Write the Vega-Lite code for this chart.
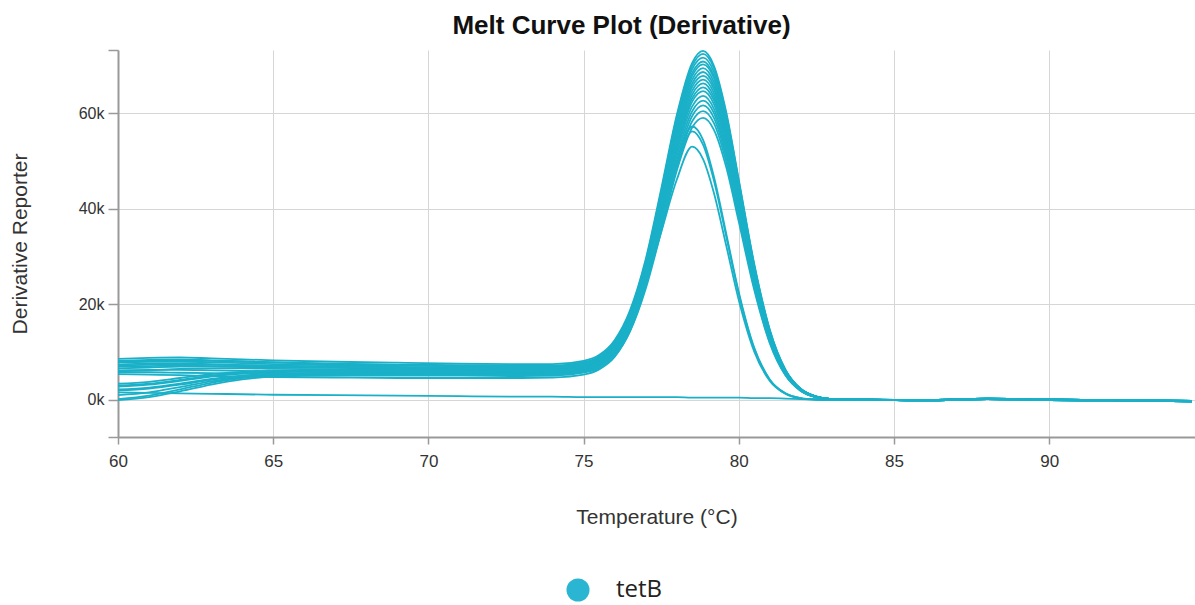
{
"$schema": "https://vega.github.io/schema/vega-lite/v6.json",
"width": 1077, "height": 387,
"autosize": "none",
"padding": {"left": 118, "top": 50, "right": 0, "bottom": 168},
"background": "white",
"title": {"text": "Melt Curve Plot (Derivative)", "font": "Liberation Sans", "fontSize": 26, "fontWeight": "bold", "color": "#111", "anchor": "middle", "dx": -35, "offset": 10},
"config": {"view": {"stroke": null}, "font": "Liberation Sans"},
"data": {"values": [
{"c":1,"t":60,"v":8.6},{"c":1,"t":61,"v":8.8},{"c":1,"t":62,"v":8.9},{"c":1,"t":63,"v":8.7},{"c":1,"t":64,"v":8.5},{"c":1,"t":65,"v":8.3},{"c":1,"t":67,"v":8.0},{"c":1,"t":69,"v":7.8},{"c":1,"t":71,"v":7.6},{"c":1,"t":73,"v":7.5},{"c":1,"t":74,"v":7.5},{"c":1,"t":75,"v":8.2},{"c":1,"t":75.5,"v":9.4},{"c":1,"t":76,"v":12.5},{"c":1,"t":76.5,"v":18.8},{"c":1,"t":77,"v":29.4},{"c":1,"t":77.5,"v":44.1},{"c":1,"t":78,"v":59.5},{"c":1,"t":78.5,"v":70.5},{"c":1,"t":78.85,"v":73.0},{"c":1,"t":79.2,"v":69.9},{"c":1,"t":79.6,"v":60.1},{"c":1,"t":80,"v":46.1},{"c":1,"t":80.5,"v":28.4},{"c":1,"t":81,"v":14.7},{"c":1,"t":81.5,"v":6.4},{"c":1,"t":82,"v":2.3},{"c":1,"t":82.5,"v":0.7},{"c":1,"t":83,"v":0.2},{"c":1,"t":84,"v":0.1},{"c":1,"t":86,"v":-0.1},{"c":1,"t":88,"v":0.2},{"c":1,"t":90,"v":0.0},{"c":1,"t":92,"v":-0.1},{"c":1,"t":94.6,"v":-0.3},
{"c":2,"t":60,"v":8.0},{"c":2,"t":61,"v":8.2},{"c":2,"t":62,"v":8.3},{"c":2,"t":63,"v":8.2},{"c":2,"t":64,"v":8.0},{"c":2,"t":65,"v":7.8},{"c":2,"t":67,"v":7.5},{"c":2,"t":69,"v":7.3},{"c":2,"t":71,"v":7.1},{"c":2,"t":73,"v":7.0},{"c":2,"t":74,"v":7.0},{"c":2,"t":75,"v":7.7},{"c":2,"t":75.5,"v":8.9},{"c":2,"t":76,"v":12.0},{"c":2,"t":76.5,"v":18.3},{"c":2,"t":77,"v":28.9},{"c":2,"t":77.5,"v":43.5},{"c":2,"t":78,"v":59.0},{"c":2,"t":78.5,"v":69.9},{"c":2,"t":78.85,"v":72.4},{"c":2,"t":79.2,"v":69.4},{"c":2,"t":79.6,"v":59.6},{"c":2,"t":80,"v":45.8},{"c":2,"t":80.5,"v":28.2},{"c":2,"t":81,"v":14.6},{"c":2,"t":81.5,"v":6.3},{"c":2,"t":82,"v":2.3},{"c":2,"t":82.5,"v":0.7},{"c":2,"t":83,"v":0.2},{"c":2,"t":84,"v":0.0},{"c":2,"t":86,"v":0.0},{"c":2,"t":88,"v":0.3},{"c":2,"t":90,"v":0.1},{"c":2,"t":92,"v":0.0},{"c":2,"t":94.6,"v":-0.2},
{"c":3,"t":60,"v":8.2},{"c":3,"t":61,"v":8.4},{"c":3,"t":62,"v":8.5},{"c":3,"t":63,"v":8.3},{"c":3,"t":64,"v":8.1},{"c":3,"t":65,"v":7.9},{"c":3,"t":67,"v":7.6},{"c":3,"t":69,"v":7.4},{"c":3,"t":71,"v":7.3},{"c":3,"t":73,"v":7.2},{"c":3,"t":74,"v":7.2},{"c":3,"t":75,"v":7.9},{"c":3,"t":75.5,"v":9.1},{"c":3,"t":76,"v":12.1},{"c":3,"t":76.5,"v":18.3},{"c":3,"t":77,"v":28.8},{"c":3,"t":77.5,"v":43.2},{"c":3,"t":78,"v":58.4},{"c":3,"t":78.5,"v":69.2},{"c":3,"t":78.85,"v":71.6},{"c":3,"t":79.2,"v":68.6},{"c":3,"t":79.6,"v":58.9},{"c":3,"t":80,"v":45.3},{"c":3,"t":80.5,"v":27.9},{"c":3,"t":81,"v":14.4},{"c":3,"t":81.5,"v":6.3},{"c":3,"t":82,"v":2.3},{"c":3,"t":82.5,"v":0.7},{"c":3,"t":83,"v":0.2},{"c":3,"t":84,"v":0.1},{"c":3,"t":86,"v":-0.1},{"c":3,"t":88,"v":0.2},{"c":3,"t":90,"v":0.0},{"c":3,"t":92,"v":-0.1},{"c":3,"t":94.6,"v":-0.3},
{"c":4,"t":60,"v":7.8},{"c":4,"t":61,"v":8.0},{"c":4,"t":62,"v":8.0},{"c":4,"t":63,"v":7.9},{"c":4,"t":64,"v":7.7},{"c":4,"t":65,"v":7.5},{"c":4,"t":67,"v":7.3},{"c":4,"t":69,"v":7.2},{"c":4,"t":71,"v":7.1},{"c":4,"t":73,"v":7.0},{"c":4,"t":74,"v":7.0},{"c":4,"t":75,"v":7.7},{"c":4,"t":75.5,"v":8.9},{"c":4,"t":76,"v":11.8},{"c":4,"t":76.5,"v":18.0},{"c":4,"t":77,"v":28.4},{"c":4,"t":77.5,"v":42.6},{"c":4,"t":78,"v":57.7},{"c":4,"t":78.5,"v":68.4},{"c":4,"t":78.85,"v":70.8},{"c":4,"t":79.2,"v":67.8},{"c":4,"t":79.6,"v":58.3},{"c":4,"t":80,"v":44.7},{"c":4,"t":80.5,"v":27.5},{"c":4,"t":81,"v":14.2},{"c":4,"t":81.5,"v":6.2},{"c":4,"t":82,"v":2.3},{"c":4,"t":82.5,"v":0.7},{"c":4,"t":83,"v":0.2},{"c":4,"t":84,"v":0.0},{"c":4,"t":86,"v":0.0},{"c":4,"t":88,"v":0.3},{"c":4,"t":90,"v":0.1},{"c":4,"t":92,"v":0.0},{"c":4,"t":94.6,"v":-0.2},
{"c":5,"t":60,"v":3.4},{"c":5,"t":61,"v":3.8},{"c":5,"t":62,"v":4.6},{"c":5,"t":63,"v":5.4},{"c":5,"t":64,"v":5.9},{"c":5,"t":65,"v":6.1},{"c":5,"t":67,"v":6.2},{"c":5,"t":69,"v":6.2},{"c":5,"t":71,"v":6.1},{"c":5,"t":73,"v":6.1},{"c":5,"t":74,"v":6.1},{"c":5,"t":75,"v":6.8},{"c":5,"t":75.5,"v":8.0},{"c":5,"t":76,"v":11.0},{"c":5,"t":76.5,"v":17.1},{"c":5,"t":77,"v":27.6},{"c":5,"t":77.5,"v":41.9},{"c":5,"t":78,"v":57.0},{"c":5,"t":78.5,"v":67.8},{"c":5,"t":78.85,"v":70.2},{"c":5,"t":79.2,"v":67.3},{"c":5,"t":79.6,"v":57.8},{"c":5,"t":80,"v":44.4},{"c":5,"t":80.5,"v":27.3},{"c":5,"t":81,"v":14.1},{"c":5,"t":81.5,"v":6.1},{"c":5,"t":82,"v":2.2},{"c":5,"t":82.5,"v":0.7},{"c":5,"t":83,"v":0.2},{"c":5,"t":84,"v":0.1},{"c":5,"t":86,"v":-0.1},{"c":5,"t":88,"v":0.2},{"c":5,"t":90,"v":0.0},{"c":5,"t":92,"v":-0.1},{"c":5,"t":94.6,"v":-0.3},
{"c":6,"t":60,"v":7.4},{"c":6,"t":61,"v":7.6},{"c":6,"t":62,"v":7.6},{"c":6,"t":63,"v":7.5},{"c":6,"t":64,"v":7.3},{"c":6,"t":65,"v":7.2},{"c":6,"t":67,"v":7.0},{"c":6,"t":69,"v":6.9},{"c":6,"t":71,"v":6.8},{"c":6,"t":73,"v":6.8},{"c":6,"t":74,"v":6.8},{"c":6,"t":75,"v":7.4},{"c":6,"t":75.5,"v":8.6},{"c":6,"t":76,"v":11.5},{"c":6,"t":76.5,"v":17.6},{"c":6,"t":77,"v":27.8},{"c":6,"t":77.5,"v":41.8},{"c":6,"t":78,"v":56.5},{"c":6,"t":78.5,"v":67.0},{"c":6,"t":78.85,"v":69.4},{"c":6,"t":79.2,"v":66.5},{"c":6,"t":79.6,"v":57.1},{"c":6,"t":80,"v":43.9},{"c":6,"t":80.5,"v":27.0},{"c":6,"t":81,"v":13.9},{"c":6,"t":81.5,"v":6.1},{"c":6,"t":82,"v":2.2},{"c":6,"t":82.5,"v":0.7},{"c":6,"t":83,"v":0.2},{"c":6,"t":84,"v":0.0},{"c":6,"t":86,"v":0.0},{"c":6,"t":88,"v":0.3},{"c":6,"t":90,"v":0.1},{"c":6,"t":92,"v":0.0},{"c":6,"t":94.6,"v":-0.2},
{"c":7,"t":60,"v":2.8},{"c":7,"t":61,"v":3.2},{"c":7,"t":62,"v":4.0},{"c":7,"t":63,"v":4.9},{"c":7,"t":64,"v":5.5},{"c":7,"t":65,"v":5.8},{"c":7,"t":67,"v":6.0},{"c":7,"t":69,"v":6.0},{"c":7,"t":71,"v":5.9},{"c":7,"t":73,"v":5.9},{"c":7,"t":74,"v":6.0},{"c":7,"t":75,"v":6.6},{"c":7,"t":75.5,"v":7.8},{"c":7,"t":76,"v":10.7},{"c":7,"t":76.5,"v":16.8},{"c":7,"t":77,"v":27.0},{"c":7,"t":77.5,"v":41.0},{"c":7,"t":78,"v":55.7},{"c":7,"t":78.5,"v":66.2},{"c":7,"t":78.85,"v":68.6},{"c":7,"t":79.2,"v":65.7},{"c":7,"t":79.6,"v":56.5},{"c":7,"t":80,"v":43.4},{"c":7,"t":80.5,"v":26.7},{"c":7,"t":81,"v":13.8},{"c":7,"t":81.5,"v":6.0},{"c":7,"t":82,"v":2.2},{"c":7,"t":82.5,"v":0.7},{"c":7,"t":83,"v":0.2},{"c":7,"t":84,"v":0.1},{"c":7,"t":86,"v":-0.1},{"c":7,"t":88,"v":0.2},{"c":7,"t":90,"v":0.0},{"c":7,"t":92,"v":-0.1},{"c":7,"t":94.6,"v":-0.3},
{"c":8,"t":60,"v":6.6},{"c":8,"t":61,"v":6.8},{"c":8,"t":62,"v":7.0},{"c":8,"t":63,"v":7.0},{"c":8,"t":64,"v":6.9},{"c":8,"t":65,"v":6.8},{"c":8,"t":67,"v":6.7},{"c":8,"t":69,"v":6.6},{"c":8,"t":71,"v":6.6},{"c":8,"t":73,"v":6.5},{"c":8,"t":74,"v":6.5},{"c":8,"t":75,"v":7.1},{"c":8,"t":75.5,"v":8.3},{"c":8,"t":76,"v":11.2},{"c":8,"t":76.5,"v":17.1},{"c":8,"t":77,"v":27.0},{"c":8,"t":77.5,"v":40.8},{"c":8,"t":78,"v":55.2},{"c":8,"t":78.5,"v":65.5},{"c":8,"t":78.85,"v":67.8},{"c":8,"t":79.2,"v":65.0},{"c":8,"t":79.6,"v":55.8},{"c":8,"t":80,"v":42.8},{"c":8,"t":80.5,"v":26.4},{"c":8,"t":81,"v":13.6},{"c":8,"t":81.5,"v":5.9},{"c":8,"t":82,"v":2.2},{"c":8,"t":82.5,"v":0.7},{"c":8,"t":83,"v":0.2},{"c":8,"t":84,"v":0.0},{"c":8,"t":86,"v":0.0},{"c":8,"t":88,"v":0.3},{"c":8,"t":90,"v":0.1},{"c":8,"t":92,"v":0.0},{"c":8,"t":94.6,"v":-0.2},
{"c":9,"t":60,"v":7.0},{"c":9,"t":61,"v":7.1},{"c":9,"t":62,"v":7.2},{"c":9,"t":63,"v":7.1},{"c":9,"t":64,"v":7.0},{"c":9,"t":65,"v":6.9},{"c":9,"t":67,"v":6.8},{"c":9,"t":69,"v":6.7},{"c":9,"t":71,"v":6.6},{"c":9,"t":73,"v":6.6},{"c":9,"t":74,"v":6.6},{"c":9,"t":75,"v":7.2},{"c":9,"t":75.5,"v":8.4},{"c":9,"t":76,"v":11.2},{"c":9,"t":76.5,"v":17.0},{"c":9,"t":77,"v":26.8},{"c":9,"t":77.5,"v":40.4},{"c":9,"t":78,"v":54.6},{"c":9,"t":78.5,"v":64.7},{"c":9,"t":78.85,"v":67.0},{"c":9,"t":79.2,"v":64.2},{"c":9,"t":79.6,"v":55.1},{"c":9,"t":80,"v":42.3},{"c":9,"t":80.5,"v":26.1},{"c":9,"t":81,"v":13.5},{"c":9,"t":81.5,"v":5.8},{"c":9,"t":82,"v":2.1},{"c":9,"t":82.5,"v":0.7},{"c":9,"t":83,"v":0.2},{"c":9,"t":84,"v":0.1},{"c":9,"t":86,"v":-0.1},{"c":9,"t":88,"v":0.2},{"c":9,"t":90,"v":0.0},{"c":9,"t":92,"v":-0.1},{"c":9,"t":94.6,"v":-0.3},
{"c":10,"t":60,"v":6.0},{"c":10,"t":61,"v":6.2},{"c":10,"t":62,"v":6.5},{"c":10,"t":63,"v":6.6},{"c":10,"t":64,"v":6.6},{"c":10,"t":65,"v":6.5},{"c":10,"t":67,"v":6.4},{"c":10,"t":69,"v":6.3},{"c":10,"t":71,"v":6.3},{"c":10,"t":73,"v":6.2},{"c":10,"t":74,"v":6.2},{"c":10,"t":75,"v":6.8},{"c":10,"t":75.5,"v":8.0},{"c":10,"t":76,"v":10.8},{"c":10,"t":76.5,"v":16.5},{"c":10,"t":77,"v":26.3},{"c":10,"t":77.5,"v":39.7},{"c":10,"t":78,"v":53.9},{"c":10,"t":78.5,"v":63.9},{"c":10,"t":78.85,"v":66.2},{"c":10,"t":79.2,"v":63.4},{"c":10,"t":79.6,"v":54.5},{"c":10,"t":80,"v":41.8},{"c":10,"t":80.5,"v":25.8},{"c":10,"t":81,"v":13.3},{"c":10,"t":81.5,"v":5.8},{"c":10,"t":82,"v":2.1},{"c":10,"t":82.5,"v":0.6},{"c":10,"t":83,"v":0.2},{"c":10,"t":84,"v":0.0},{"c":10,"t":86,"v":0.0},{"c":10,"t":88,"v":0.3},{"c":10,"t":90,"v":0.1},{"c":10,"t":92,"v":0.0},{"c":10,"t":94.6,"v":-0.2},
{"c":11,"t":60,"v":2.2},{"c":11,"t":61,"v":2.6},{"c":11,"t":62,"v":3.4},{"c":11,"t":63,"v":4.4},{"c":11,"t":64,"v":5.1},{"c":11,"t":65,"v":5.5},{"c":11,"t":67,"v":5.7},{"c":11,"t":69,"v":5.8},{"c":11,"t":71,"v":5.8},{"c":11,"t":73,"v":5.7},{"c":11,"t":74,"v":5.8},{"c":11,"t":75,"v":6.4},{"c":11,"t":75.5,"v":7.5},{"c":11,"t":76,"v":10.3},{"c":11,"t":76.5,"v":16.1},{"c":11,"t":77,"v":25.8},{"c":11,"t":77.5,"v":39.1},{"c":11,"t":78,"v":53.1},{"c":11,"t":78.5,"v":63.1},{"c":11,"t":78.85,"v":65.4},{"c":11,"t":79.2,"v":62.7},{"c":11,"t":79.6,"v":53.8},{"c":11,"t":80,"v":41.3},{"c":11,"t":80.5,"v":25.4},{"c":11,"t":81,"v":13.1},{"c":11,"t":81.5,"v":5.7},{"c":11,"t":82,"v":2.1},{"c":11,"t":82.5,"v":0.6},{"c":11,"t":83,"v":0.2},{"c":11,"t":84,"v":0.1},{"c":11,"t":86,"v":-0.1},{"c":11,"t":88,"v":0.2},{"c":11,"t":90,"v":0.0},{"c":11,"t":92,"v":-0.1},{"c":11,"t":94.6,"v":-0.3},
{"c":12,"t":60,"v":5.8},{"c":12,"t":61,"v":5.8},{"c":12,"t":62,"v":5.7},{"c":12,"t":63,"v":5.6},{"c":12,"t":64,"v":5.5},{"c":12,"t":65,"v":5.4},{"c":12,"t":67,"v":5.3},{"c":12,"t":69,"v":5.2},{"c":12,"t":71,"v":5.2},{"c":12,"t":73,"v":5.2},{"c":12,"t":74,"v":5.3},{"c":12,"t":75,"v":5.9},{"c":12,"t":75.5,"v":7.0},{"c":12,"t":76,"v":9.8},{"c":12,"t":76.5,"v":15.5},{"c":12,"t":77,"v":25.2},{"c":12,"t":77.5,"v":38.4},{"c":12,"t":78,"v":52.4},{"c":12,"t":78.5,"v":62.4},{"c":12,"t":78.85,"v":64.6},{"c":12,"t":79.2,"v":61.9},{"c":12,"t":79.6,"v":53.2},{"c":12,"t":80,"v":40.8},{"c":12,"t":80.5,"v":25.1},{"c":12,"t":81,"v":13.0},{"c":12,"t":81.5,"v":5.6},{"c":12,"t":82,"v":2.1},{"c":12,"t":82.5,"v":0.6},{"c":12,"t":83,"v":0.2},{"c":12,"t":84,"v":0.0},{"c":12,"t":86,"v":0.0},{"c":12,"t":88,"v":0.3},{"c":12,"t":90,"v":0.1},{"c":12,"t":92,"v":0.0},{"c":12,"t":94.6,"v":-0.2},
{"c":13,"t":60,"v":3.0},{"c":13,"t":61,"v":3.4},{"c":13,"t":62,"v":4.2},{"c":13,"t":63,"v":5.1},{"c":13,"t":64,"v":5.7},{"c":13,"t":65,"v":6.0},{"c":13,"t":67,"v":6.2},{"c":13,"t":69,"v":6.3},{"c":13,"t":71,"v":6.3},{"c":13,"t":73,"v":6.3},{"c":13,"t":74,"v":6.3},{"c":13,"t":75,"v":6.9},{"c":13,"t":75.5,"v":8.0},{"c":13,"t":76,"v":10.7},{"c":13,"t":76.5,"v":16.2},{"c":13,"t":77,"v":25.5},{"c":13,"t":77.5,"v":38.3},{"c":13,"t":78,"v":51.8},{"c":13,"t":78.5,"v":61.4},{"c":13,"t":78.85,"v":63.6},{"c":13,"t":79.2,"v":60.9},{"c":13,"t":79.6,"v":52.3},{"c":13,"t":80,"v":40.2},{"c":13,"t":80.5,"v":24.7},{"c":13,"t":81,"v":12.8},{"c":13,"t":81.5,"v":5.6},{"c":13,"t":82,"v":2.0},{"c":13,"t":82.5,"v":0.6},{"c":13,"t":83,"v":0.2},{"c":13,"t":84,"v":0.1},{"c":13,"t":86,"v":-0.1},{"c":13,"t":88,"v":0.2},{"c":13,"t":90,"v":0.0},{"c":13,"t":92,"v":-0.1},{"c":13,"t":94.6,"v":-0.3},
{"c":14,"t":60,"v":1.0},{"c":14,"t":61,"v":1.6},{"c":14,"t":62,"v":2.7},{"c":14,"t":63,"v":3.9},{"c":14,"t":64,"v":4.8},{"c":14,"t":65,"v":5.3},{"c":14,"t":67,"v":5.5},{"c":14,"t":69,"v":5.6},{"c":14,"t":71,"v":5.6},{"c":14,"t":73,"v":5.5},{"c":14,"t":74,"v":5.6},{"c":14,"t":75,"v":6.2},{"c":14,"t":75.5,"v":7.3},{"c":14,"t":76,"v":9.9},{"c":14,"t":76.5,"v":15.4},{"c":14,"t":77,"v":24.7},{"c":14,"t":77.5,"v":37.5},{"c":14,"t":78,"v":50.9},{"c":14,"t":78.5,"v":60.4},{"c":14,"t":78.85,"v":62.6},{"c":14,"t":79.2,"v":60.0},{"c":14,"t":79.6,"v":51.5},{"c":14,"t":80,"v":39.6},{"c":14,"t":80.5,"v":24.4},{"c":14,"t":81,"v":12.6},{"c":14,"t":81.5,"v":5.5},{"c":14,"t":82,"v":2.0},{"c":14,"t":82.5,"v":0.6},{"c":14,"t":83,"v":0.2},{"c":14,"t":84,"v":0.0},{"c":14,"t":86,"v":0.0},{"c":14,"t":88,"v":0.3},{"c":14,"t":90,"v":0.1},{"c":14,"t":92,"v":0.0},{"c":14,"t":94.6,"v":-0.2},
{"c":15,"t":60,"v":5.4},{"c":15,"t":61,"v":5.3},{"c":15,"t":62,"v":5.2},{"c":15,"t":63,"v":5.0},{"c":15,"t":64,"v":4.9},{"c":15,"t":65,"v":4.8},{"c":15,"t":67,"v":4.7},{"c":15,"t":69,"v":4.6},{"c":15,"t":71,"v":4.6},{"c":15,"t":73,"v":4.6},{"c":15,"t":74,"v":4.7},{"c":15,"t":75,"v":5.3},{"c":15,"t":75.5,"v":6.4},{"c":15,"t":76,"v":9.0},{"c":15,"t":76.5,"v":14.5},{"c":15,"t":77,"v":23.8},{"c":15,"t":77.5,"v":36.5},{"c":15,"t":78,"v":49.9},{"c":15,"t":78.5,"v":59.4},{"c":15,"t":78.85,"v":61.6},{"c":15,"t":79.2,"v":59.0},{"c":15,"t":79.6,"v":50.7},{"c":15,"t":80,"v":38.9},{"c":15,"t":80.5,"v":24.0},{"c":15,"t":81,"v":12.4},{"c":15,"t":81.5,"v":5.4},{"c":15,"t":82,"v":2.0},{"c":15,"t":82.5,"v":0.6},{"c":15,"t":83,"v":0.2},{"c":15,"t":84,"v":0.1},{"c":15,"t":86,"v":-0.1},{"c":15,"t":88,"v":0.2},{"c":15,"t":90,"v":0.0},{"c":15,"t":92,"v":-0.1},{"c":15,"t":94.6,"v":-0.3},
{"c":16,"t":60,"v":0.2},{"c":16,"t":61,"v":0.9},{"c":16,"t":62,"v":2.2},{"c":16,"t":63,"v":3.6},{"c":16,"t":64,"v":4.6},{"c":16,"t":65,"v":5.1},{"c":16,"t":67,"v":5.3},{"c":16,"t":69,"v":5.3},{"c":16,"t":71,"v":5.3},{"c":16,"t":73,"v":5.3},{"c":16,"t":74,"v":5.4},{"c":16,"t":75,"v":6.0},{"c":16,"t":75.5,"v":7.0},{"c":16,"t":76,"v":9.6},{"c":16,"t":76.5,"v":14.9},{"c":16,"t":77,"v":23.8},{"c":16,"t":77.5,"v":36.1},{"c":16,"t":78,"v":49.1},{"c":16,"t":78.5,"v":58.3},{"c":16,"t":78.85,"v":60.4},{"c":16,"t":79.2,"v":57.9},{"c":16,"t":79.6,"v":49.7},{"c":16,"t":80,"v":38.2},{"c":16,"t":80.5,"v":23.5},{"c":16,"t":81,"v":12.1},{"c":16,"t":81.5,"v":5.3},{"c":16,"t":82,"v":1.9},{"c":16,"t":82.5,"v":0.6},{"c":16,"t":83,"v":0.2},{"c":16,"t":84,"v":0.0},{"c":16,"t":86,"v":0.0},{"c":16,"t":88,"v":0.3},{"c":16,"t":90,"v":0.1},{"c":16,"t":92,"v":0.0},{"c":16,"t":94.6,"v":-0.2},
{"c":17,"t":60,"v":0.0},{"c":17,"t":61,"v":0.6},{"c":17,"t":62,"v":1.8},{"c":17,"t":63,"v":3.2},{"c":17,"t":64,"v":4.3},{"c":17,"t":65,"v":4.9},{"c":17,"t":67,"v":5.1},{"c":17,"t":69,"v":5.1},{"c":17,"t":71,"v":5.1},{"c":17,"t":73,"v":5.0},{"c":17,"t":74,"v":5.1},{"c":17,"t":75,"v":5.7},{"c":17,"t":75.5,"v":6.7},{"c":17,"t":76,"v":9.2},{"c":17,"t":76.5,"v":14.4},{"c":17,"t":77,"v":23.2},{"c":17,"t":77.5,"v":35.2},{"c":17,"t":78,"v":47.9},{"c":17,"t":78.5,"v":57.0},{"c":17,"t":78.85,"v":59.0},{"c":17,"t":79.2,"v":56.5},{"c":17,"t":79.6,"v":48.6},{"c":17,"t":80,"v":37.3},{"c":17,"t":80.5,"v":23.0},{"c":17,"t":81,"v":11.9},{"c":17,"t":81.5,"v":5.2},{"c":17,"t":82,"v":1.9},{"c":17,"t":82.5,"v":0.6},{"c":17,"t":83,"v":0.1},{"c":17,"t":84,"v":0.1},{"c":17,"t":86,"v":-0.1},{"c":17,"t":88,"v":0.2},{"c":17,"t":90,"v":0.0},{"c":17,"t":92,"v":-0.1},{"c":17,"t":94.6,"v":-0.3},
{"c":18,"t":60,"v":7.2},{"c":18,"t":61,"v":7.4},{"c":18,"t":62,"v":7.5},{"c":18,"t":63,"v":7.4},{"c":18,"t":64,"v":7.3},{"c":18,"t":65,"v":7.1},{"c":18,"t":67,"v":6.9},{"c":18,"t":69,"v":6.8},{"c":18,"t":71,"v":6.7},{"c":18,"t":73,"v":6.7},{"c":18,"t":74,"v":6.7},{"c":18,"t":75,"v":7.4},{"c":18,"t":75.5,"v":8.7},{"c":18,"t":76,"v":11.6},{"c":18,"t":76.5,"v":17.4},{"c":18,"t":77,"v":26.5},{"c":18,"t":77.5,"v":38.1},{"c":18,"t":78,"v":49.6},{"c":18,"t":78.5,"v":57.2},{"c":18,"t":78.85,"v":54.4},{"c":18,"t":79.2,"v":46.7},{"c":18,"t":79.6,"v":34.7},{"c":18,"t":80,"v":22.6},{"c":18,"t":80.5,"v":10.9},{"c":18,"t":81,"v":4.3},{"c":18,"t":81.5,"v":1.4},{"c":18,"t":82,"v":0.4},{"c":18,"t":82.5,"v":0.1},{"c":18,"t":83,"v":0.0},{"c":18,"t":84,"v":0.0},{"c":18,"t":86,"v":0.0},{"c":18,"t":88,"v":0.3},{"c":18,"t":90,"v":0.1},{"c":18,"t":92,"v":0.0},{"c":18,"t":94.6,"v":-0.2},
{"c":19,"t":60,"v":2.0},{"c":19,"t":61,"v":2.4},{"c":19,"t":62,"v":3.2},{"c":19,"t":63,"v":4.2},{"c":19,"t":64,"v":5.0},{"c":19,"t":65,"v":5.4},{"c":19,"t":67,"v":5.7},{"c":19,"t":69,"v":5.8},{"c":19,"t":71,"v":5.8},{"c":19,"t":73,"v":5.8},{"c":19,"t":74,"v":5.9},{"c":19,"t":75,"v":6.6},{"c":19,"t":75.5,"v":7.9},{"c":19,"t":76,"v":10.8},{"c":19,"t":76.5,"v":16.5},{"c":19,"t":77,"v":25.6},{"c":19,"t":77.5,"v":37.1},{"c":19,"t":78,"v":48.7},{"c":19,"t":78.5,"v":56.2},{"c":19,"t":78.85,"v":53.4},{"c":19,"t":79.2,"v":45.9},{"c":19,"t":79.6,"v":34.1},{"c":19,"t":80,"v":22.2},{"c":19,"t":80.5,"v":10.7},{"c":19,"t":81,"v":4.2},{"c":19,"t":81.5,"v":1.4},{"c":19,"t":82,"v":0.4},{"c":19,"t":82.5,"v":0.1},{"c":19,"t":83,"v":0.0},{"c":19,"t":84,"v":0.1},{"c":19,"t":86,"v":-0.1},{"c":19,"t":88,"v":0.2},{"c":19,"t":90,"v":0.0},{"c":19,"t":92,"v":-0.1},{"c":19,"t":94.6,"v":-0.3},
{"c":20,"t":60,"v":6.2},{"c":20,"t":61,"v":6.3},{"c":20,"t":62,"v":6.3},{"c":20,"t":63,"v":6.2},{"c":20,"t":64,"v":6.1},{"c":20,"t":65,"v":6.0},{"c":20,"t":67,"v":5.9},{"c":20,"t":69,"v":5.8},{"c":20,"t":71,"v":5.8},{"c":20,"t":73,"v":5.8},{"c":20,"t":74,"v":5.9},{"c":20,"t":75,"v":6.6},{"c":20,"t":75.5,"v":7.7},{"c":20,"t":76,"v":10.5},{"c":20,"t":76.5,"v":15.9},{"c":20,"t":77,"v":24.3},{"c":20,"t":77.5,"v":35.1},{"c":20,"t":78,"v":46.0},{"c":20,"t":78.5,"v":53.0},{"c":20,"t":78.85,"v":50.4},{"c":20,"t":79.2,"v":43.3},{"c":20,"t":79.6,"v":32.2},{"c":20,"t":80,"v":20.9},{"c":20,"t":80.5,"v":10.1},{"c":20,"t":81,"v":4.0},{"c":20,"t":81.5,"v":1.3},{"c":20,"t":82,"v":0.3},{"c":20,"t":82.5,"v":0.1},{"c":20,"t":83,"v":0.0},{"c":20,"t":84,"v":0.0},{"c":20,"t":86,"v":0.0},{"c":20,"t":88,"v":0.3},{"c":20,"t":90,"v":0.1},{"c":20,"t":92,"v":0.0},{"c":20,"t":94.6,"v":-0.2},
{"c":21,"t":60,"v":1.6},{"c":21,"t":61,"v":1.5},{"c":21,"t":62,"v":1.4},{"c":21,"t":63,"v":1.3},{"c":21,"t":64,"v":1.2},{"c":21,"t":65,"v":1.1},{"c":21,"t":67,"v":1.0},{"c":21,"t":69,"v":0.9},{"c":21,"t":71,"v":0.8},{"c":21,"t":73,"v":0.7},{"c":21,"t":74,"v":0.7},{"c":21,"t":75,"v":0.6},{"c":21,"t":75.5,"v":0.6},{"c":21,"t":76,"v":0.6},{"c":21,"t":76.5,"v":0.6},{"c":21,"t":77,"v":0.6},{"c":21,"t":77.5,"v":0.6},{"c":21,"t":78,"v":0.6},{"c":21,"t":78.5,"v":0.5},{"c":21,"t":78.85,"v":0.5},{"c":21,"t":79.2,"v":0.5},{"c":21,"t":79.6,"v":0.5},{"c":21,"t":80,"v":0.5},{"c":21,"t":80.5,"v":0.4},{"c":21,"t":81,"v":0.4},{"c":21,"t":81.5,"v":0.3},{"c":21,"t":82,"v":0.2},{"c":21,"t":82.5,"v":0.1},{"c":21,"t":83,"v":0.0},{"c":21,"t":84,"v":0.1},{"c":21,"t":86,"v":-0.1},{"c":21,"t":88,"v":0.2},{"c":21,"t":90,"v":0.0},{"c":21,"t":92,"v":-0.1},{"c":21,"t":94.6,"v":-0.3}
]},
"mark": {"type": "line", "interpolate": "monotone", "strokeWidth": 1.8, "clip": true},
"encoding": {
 "x": {"field": "t", "type": "quantitative", "scale": {"domain": [60, 94.7], "nice": false, "zero": false},
  "axis": {"values": [60, 65, 70, 75, 80, 85, 90], "title": "Temperature (°C)", "titleFont": "Liberation Sans", "titleFontSize": 21, "titleFontWeight": "normal", "titleColor": "#333", "titlePadding": 37,
   "labelFont": "Liberation Sans", "labelFontSize": 17, "labelColor": "#333", "labelPadding": 9, "labelFlush": false,
   "domainColor": "#999", "domainWidth": 2, "tickColor": "#999", "tickSize": 7, "tickWidth": 1.5, "gridColor": "#d6d6d6", "gridWidth": 1}},
 "y": {"field": "v", "type": "quantitative", "scale": {"domain": [-7.74, 73.2], "nice": false, "zero": false},
  "axis": {"values": [-7.74, 0, 20, 40, 60, 73.2], "labelExpr": "datum.value == 0 || datum.value == 20 || datum.value == 40 || datum.value == 60 ? datum.value + 'k' : ''",
   "title": "Derivative Reporter", "titleFont": "Liberation Sans", "titleFontSize": 21, "titleFontWeight": "normal", "titleColor": "#333", "titlePadding": 48,
   "labelFont": "Liberation Sans", "labelFontSize": 16, "labelColor": "#333", "labelPadding": 4,
   "domainColor": "#999", "domainWidth": 2, "tickColor": "#999", "tickSize": 10, "tickWidth": 1.5,
   "gridColor": "#d6d6d6", "gridWidth": 1, "gridOpacity": {"condition": {"test": "datum.value < -5 || datum.value > 70", "value": 0}, "value": 1}}},
 "detail": {"field": "c"},
 "color": {"datum": "tetB", "scale": {"range": ["#1ab0c8"]},
  "legend": {"title": null, "orient": "none", "legendX": 448, "legendY": 528, "symbolType": "circle", "symbolSize": 530, "symbolFillColor": "#2ab6d2", "symbolStrokeColor": "#2ab6d2", "symbolStrokeWidth": 0, "symbolOpacity": 1,
   "labelFont": "Open Sans", "labelFontSize": 24, "labelColor": "#222", "labelOffset": 26}}
}
}
